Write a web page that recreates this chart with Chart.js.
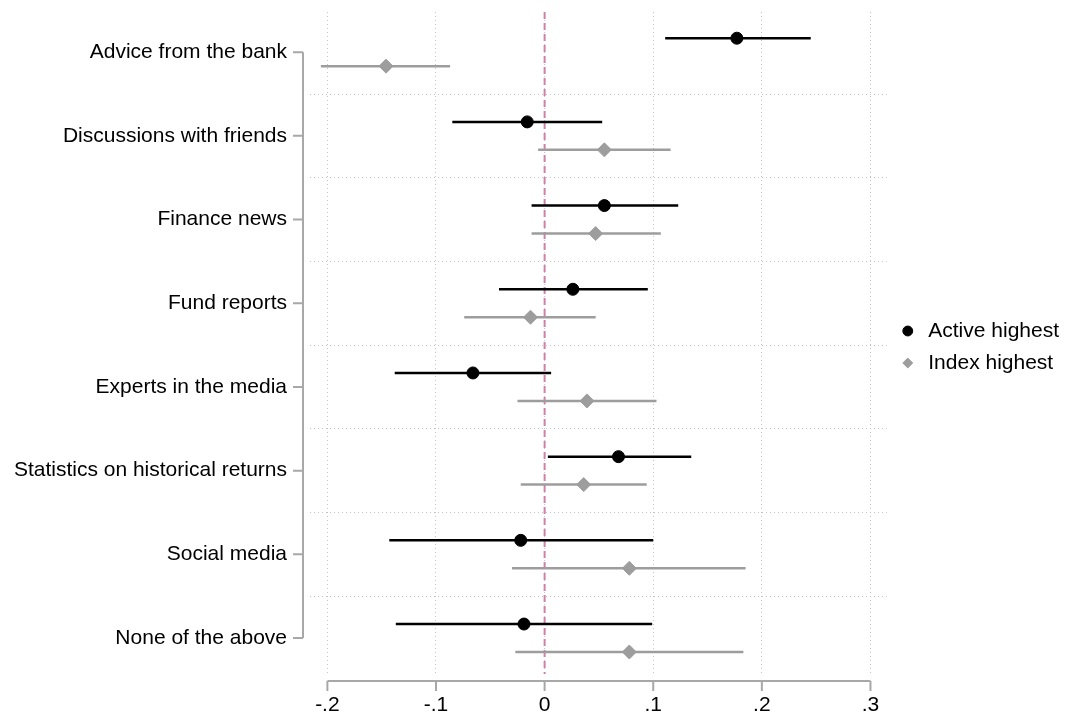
<!DOCTYPE html>
<html>
<head>
<meta charset="utf-8">
<script src="https://cdn.jsdelivr.net/npm/chart.js@4/dist/chart.umd.min.js"></script>
<style>
  html, body { margin: 0; padding: 0; background: #fff; }
  #wrap { width: 1071px; height: 716px; }
</style>
</head>
<body>
<div id="wrap"><canvas id="coefplot"></canvas></div>
<script>
// categories, top to bottom
const categories = [
  'Advice from the bank',
  'Discussions with friends',
  'Finance news',
  'Fund reports',
  'Experts in the media',
  'Statistics on historical returns',
  'Social media',
  'None of the above'
];

// Active highest: estimate and 95% CI
const activeCoef = [0.177, -0.016, 0.055, 0.026, -0.066, 0.068, -0.022, -0.019];
const activeLow  = [0.111, -0.085, -0.012, -0.042, -0.138, 0.003, -0.143, -0.137];
const activeHigh = [0.245, 0.053, 0.123, 0.095, 0.006, 0.135, 0.100, 0.099];

// Index highest: estimate and 95% CI
const indexCoef = [-0.146, 0.055, 0.047, -0.013, 0.039, 0.036, 0.078, 0.078];
const indexLow  = [-0.206, -0.006, -0.012, -0.074, -0.025, -0.022, -0.030, -0.027];
const indexHigh = [-0.087, 0.116, 0.107, 0.047, 0.103, 0.094, 0.185, 0.183];

const xTicks = [-0.2, -0.1, 0, 0.1, 0.2, 0.3];
const refLine = 0;

const off = 0.167; // vertical shift of the two series inside a category
const yMin = -0.48, yMax = categories.length - 0.57;
const FONT = "'Liberation Sans', Arial, Helvetica, sans-serif";
const GRAY = '#9d9d9d';

function points(coef, shift) {
  return categories.map((c, i) => ({ x: coef[i], y: i + shift }));
}
function bars(lo, hi, shift) {
  return categories.flatMap((c, i) => [
    { x: lo[i], y: i + shift },
    { x: hi[i], y: i + shift },
    { x: null, y: null }
  ]);
}
function fmt(v) {
  const s = (Math.round(v * 10) / 10).toString();
  return s.replace(/^(-?)0\./, '$1.');
}

// Stata style axis lines, drawn from the scales
const stataAxes = {
  id: 'stataAxes',
  afterLayout(chart) {
    // keep the legend centred on the plot region, not the whole canvas
    const lg = chart.legend;
    if (lg) {
      lg.top = chart.chartArea.top;
      lg.bottom = chart.chartArea.bottom + 8;
      lg.height = lg.bottom - lg.top;
    }
  },
  afterDraw(chart) {
    const { ctx, chartArea, scales: { x, y } } = chart;
    ctx.save();
    ctx.strokeStyle = '#a8a8a8';
    ctx.lineWidth = 2;
    ctx.beginPath();
    const ax = chartArea.left - 7;
    ctx.moveTo(ax, y.getPixelForValue(0));
    ctx.lineTo(ax, y.getPixelForValue(categories.length - 1));
    categories.forEach((c, i) => {
      const py = y.getPixelForValue(i);
      ctx.moveTo(ax, py);
      ctx.lineTo(ax - 10, py);
    });
    const ay = chartArea.bottom + 7;
    ctx.moveTo(x.getPixelForValue(xTicks[0]), ay);
    ctx.lineTo(x.getPixelForValue(xTicks[xTicks.length - 1]), ay);
    xTicks.forEach(t => {
      const px = x.getPixelForValue(t);
      ctx.moveTo(px, ay);
      ctx.lineTo(px, ay + 10);
    });
    ctx.stroke();
    ctx.restore();
  }
};

const ctx = document.getElementById('coefplot');

new Chart(ctx, {
  type: 'scatter',
  data: {
    datasets: [
      {
        label: 'Active highest',
        data: points(activeCoef, -off),
        pointStyle: 'circle',
        pointRadius: 6,
        backgroundColor: '#000',
        borderColor: '#000',
        order: 0
      },
      {
        label: 'Index highest',
        data: points(indexCoef, off),
        pointStyle: 'rectRot',
        pointRadius: 7,
        backgroundColor: GRAY,
        borderColor: GRAY,
        order: 0
      },
      {
        label: 'ci_active',
        data: bars(activeLow, activeHigh, -off),
        showLine: true,
        pointRadius: 0,
        borderColor: '#000',
        borderWidth: 2.5,
        order: 1
      },
      {
        label: 'ci_index',
        data: bars(indexLow, indexHigh, off),
        showLine: true,
        pointRadius: 0,
        borderColor: GRAY,
        borderWidth: 2.5,
        order: 1
      },
      {
        label: 'ref',
        data: [{ x: refLine, y: yMin }, { x: refLine, y: yMax }],
        showLine: true,
        pointRadius: 0,
        borderColor: '#d07fab',
        borderWidth: 2,
        borderDash: [7, 4],
        order: 2
      }
    ]
  },
  options: {
    responsive: true,
    maintainAspectRatio: false,
    animation: false,
    layout: { padding: { left: 10, top: 12, right: 2, bottom: 0 } },
    plugins: {
      tooltip: { enabled: false },
      legend: {
        position: 'right',
        labels: {
          usePointStyle: true,
          boxWidth: 20,
          boxHeight: 7,
          padding: 11,
          color: '#000',
          font: { family: FONT, size: 21 },
          filter: item => item.text === 'Active highest' || item.text === 'Index highest'
        }
      }
    },
    scales: {
      x: {
        type: 'linear',
        min: -0.216,
        max: 0.315,
        afterBuildTicks: s => { s.ticks = xTicks.map(v => ({ value: v })); },
        ticks: {
          color: '#000',
          font: { family: FONT, size: 21, lineHeight: 1 },
          padding: 0,
          maxRotation: 0,
          callback: v => fmt(v)
        },
        grid: { color: '#c4c4c4', lineWidth: 1, drawTicks: true, tickLength: 21, tickColor: 'rgba(0,0,0,0)' },
        border: { display: false, dash: [1, 3] }
      },
      y: {
        type: 'linear',
        reverse: true,
        min: yMin,
        max: yMax,
        afterBuildTicks: s => {
          const t = [];
          for (let i = 0; i < categories.length; i++) {
            t.push({ value: i });
            if (i < categories.length - 1) t.push({ value: i + 0.5 });
          }
          s.ticks = t;
        },
        afterFit: s => { s.width = 300; },
        ticks: {
          color: '#000',
          font: { family: FONT, size: 21, lineHeight: 1 },
          padding: 0,
          autoSkip: false,
          callback: v => (Number.isInteger(v) ? categories[v] : '')
        },
        grid: {
          color: c => (c.tick && !Number.isInteger(c.tick.value) ? '#c4c4c4' : 'rgba(0,0,0,0)'),
          lineWidth: 1,
          drawTicks: true,
          tickLength: 23,
          tickColor: 'rgba(0,0,0,0)'
        },
        border: { display: false, dash: [1, 3] }
      }
    }
  },
  plugins: [stataAxes]
});
</script>
</body>
</html>
